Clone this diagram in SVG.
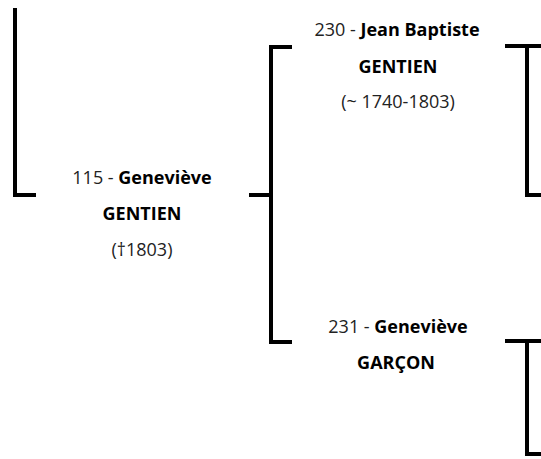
<svg xmlns="http://www.w3.org/2000/svg" width="541" height="459" viewBox="0 0 541 459">
<style>
.ln{fill:none;stroke:#000;stroke-width:4;stroke-linecap:square;stroke-linejoin:miter}
text{font-family:"Open Sans","Noto Sans","DejaVu Sans",sans-serif;font-size:18px;fill:#000;text-anchor:middle}
.n{font-weight:400;fill:#222}
.b{font-weight:700}
.d{font-weight:400;fill:#222}
</style>
<rect width="541" height="459" fill="#fff"/>
<g id="connectors">
<path class="ln" d="M15,10 V195 H34"/>
<path class="ln" d="M251,195 H271"/>
<path class="ln" d="M290,47 H271 V342 H290"/>
<path class="ln" d="M507,46 H541 M527,46 V195 H541"/>
<path class="ln" d="M507,341 H541 M527,341 V454 H541"/>
</g>
<g id="p115">
<text x="142" y="184"><tspan class="n">115 - </tspan><tspan class="b">Geneviève</tspan></text>
<text x="142" y="220" class="b">GENTIEN</text>
<text x="142" y="256" class="d">(†1803)</text>
</g>
<g id="p230">
<text x="397" y="36"><tspan class="n">230 - </tspan><tspan class="b">Jean Baptiste</tspan></text>
<text x="398" y="73" class="b">GENTIEN</text>
<text x="398" y="108" class="d">(~ 1740-1803)</text>
</g>
<g id="p231">
<text x="398" y="333"><tspan class="n">231 - </tspan><tspan class="b">Geneviève</tspan></text>
<text x="396" y="369" class="b">GARÇON</text>
</g>
</svg>
